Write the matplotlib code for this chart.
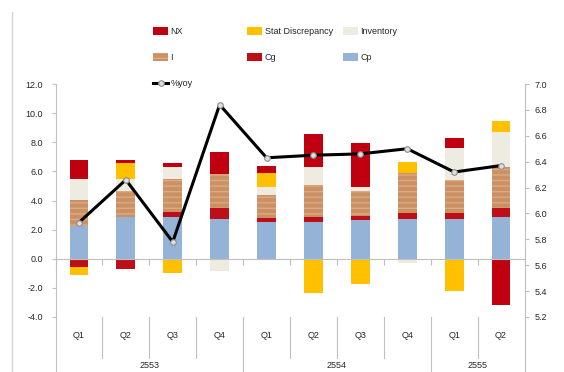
import matplotlib
matplotlib.use("Agg")
import matplotlib.pyplot as plt
import numpy as np
from matplotlib import font_manager
from matplotlib.transforms import blended_transform_factory
from matplotlib.lines import Line2D

# --- data -------------------------------------------------------------
quarters = ["Q1", "Q2", "Q3", "Q4", "Q1", "Q2", "Q3", "Q4", "Q1", "Q2"]
years = ["2553", "2554", "2555"]
year_quarters = [4, 4, 2]

cp = [2.25, 2.85, 2.85, 2.70, 2.50, 2.50, 2.67, 2.75, 2.72, 2.85]
cg = [-0.60, -0.70, 0.35, 0.80, 0.30, 0.35, 0.28, 0.40, 0.41, 0.62]
invest = [1.80, 1.80, 2.30, 2.30, 1.60, 2.20, 1.73, 2.75, 2.29, 2.85]
inventory = [1.40, 0.85, 0.80, -0.85, 0.55, 1.25, 0.28, -0.30, 2.17, 2.35]
stat_disc = [-0.55, 1.05, -1.00, 0.00, 0.92, -2.35, -1.75, 0.72, -2.20, 0.78]
nx = [1.30, 0.25, 0.30, 1.50, 0.50, 2.30, 3.00, 0.00, 0.70, -3.15]
yoy = [5.93, 6.26, 5.78, 6.84, 6.43, 6.45, 6.46, 6.50, 6.32, 6.37]

# --- fonts ------------------------------------------------------------
available = {f.name for f in font_manager.fontManager.ttflist}
families = [f for f in ["Liberation Sans Narrow", "Liberation Sans", "DejaVu Sans"] if f in available]
plt.rcParams["font.family"] = families
plt.rcParams["hatch.linewidth"] = 1.0

W, H = 564, 372
fig = plt.figure(figsize=(W / 100, H / 100), dpi=100)
fig.patch.set_facecolor("white")

left_px, right_px, top_px, bottom_px = 55.5, 524.5, 84, 317
ax = fig.add_axes([left_px / W, 1 - bottom_px / H,
                   (right_px - left_px) / W, (bottom_px - top_px) / H])
ax2 = ax.twinx()

x = np.arange(len(quarters))
width = 0.4

series = [
    ("Cp", cp, dict(color="#95B3D7")),
    ("Cg", cg, dict(color="#BE0F18")),
    ("I", invest, dict(color="#CB9165", hatch="---", edgecolor="#DCAB83", linewidth=0)),
    ("Inventory", inventory, dict(color="#EEECE1")),
    ("Stat Discrepancy", stat_disc, dict(color="#FFC000")),
    ("NX", nx, dict(color="#C00010")),
]

pos_base = np.zeros(len(x))
neg_base = np.zeros(len(x))
handles = {}
for name, vals, style in series:
    v = np.asarray(vals, dtype=float)
    bottoms = np.where(v >= 0, pos_base, neg_base)
    bars = ax.bar(x, v, width, bottom=bottoms, label=name, zorder=2, **style)
    handles[name] = bars
    pos_base = pos_base + np.where(v > 0, v, 0)
    neg_base = neg_base + np.where(v < 0, v, 0)

line, = ax2.plot(x, yoy, color="black", lw=2.2, marker="o", ms=4,
                 mfc="#E0E0E0", mec="#8C8C8C", mew=0.8, label="%yoy", zorder=5)
handles["%yoy"] = line

# --- axes -------------------------------------------------------------
grey = "#BFBFBF"
txt = "#262626"
ax.set_xlim(-0.5, len(x) - 0.5)
ax.set_ylim(-4, 12)
ax.set_yticks(np.arange(-4, 12.1, 2))
ax.set_yticklabels([f"{t:.1f}" for t in np.arange(-4, 12.1, 2)])
ax2.set_ylim(5.2, 7.0)
ax2.set_yticks(np.arange(5.2, 7.01, 0.2))
ax2.set_yticklabels([f"{t:.1f}" for t in np.arange(5.2, 7.01, 0.2)])

for a in (ax, ax2):
    a.spines["top"].set_visible(False)
    a.patch.set_visible(False)
ax.spines["right"].set_visible(False)
ax2.spines["left"].set_visible(False)
ax2.spines["bottom"].set_visible(False)
ax.spines["left"].set_color(grey)
ax2.spines["right"].set_color(grey)
ax.spines["bottom"].set_position(("data", 0))
ax.spines["bottom"].set_color(grey)

ax.set_xticks(np.arange(-0.5, len(x), 1))
ax.set_xticklabels([])
ax.tick_params(axis="x", direction="out", length=4, color=grey)
ax.tick_params(axis="y", direction="out", length=3, color=grey,
               labelsize=6.5, labelcolor=txt, pad=6)
ax2.tick_params(axis="y", direction="out", length=3, color=grey,
                labelsize=6.5, labelcolor=txt, pad=4)

# category labels below the plot
tr = blended_transform_factory(ax.transData, ax.transAxes)
plot_h = bottom_px - top_px
for xi, q in zip(x, quarters):
    ax.text(xi, -(336 - bottom_px) / plot_h, q, transform=tr, ha="center",
            va="center", fontsize=6.5, color=txt)

start = 0
boundaries_long = [-0.5]
for yr, n in zip(years, year_quarters):
    ax.text(start + (n - 1) / 2, -(365 - bottom_px) / plot_h, yr, transform=tr,
            ha="center", va="center", fontsize=6.5, color=txt)
    start += n
    boundaries_long.append(start - 0.5)

short_end = -(358 - bottom_px) / plot_h
long_end = -(H - bottom_px) / plot_h
for b in np.arange(-0.5, len(x), 1):
    end = long_end if b in boundaries_long else short_end
    ax.plot([b, b], [0, end], transform=tr, color=grey, lw=0.8, clip_on=False)

# chart frame edge on the left
fig.add_artist(Line2D([12 / W, 12 / W], [0, 1 - 12 / H], transform=fig.transFigure,
                      color="#D4D4D4", lw=1.0))

# --- legend -----------------------------------------------------------
leg_kw = dict(frameon=False, fontsize=6.5, handlelength=1.7, handleheight=0.9,
              handletextpad=0.25, labelspacing=1.9, borderpad=0, borderaxespad=0,
              loc="upper left", labelcolor=txt)
columns = [(["NX", "I", "%yoy"], 153), (["Stat Discrepancy", "Cg"], 247),
           (["Inventory", "Cp"], 343)]
for names, xpx in columns:
    fig.legend([handles[n] for n in names], names,
               bbox_to_anchor=(xpx / W, 1 - 27 / H), **leg_kw)

fig.savefig("out.png", dpi=100, facecolor="white")
